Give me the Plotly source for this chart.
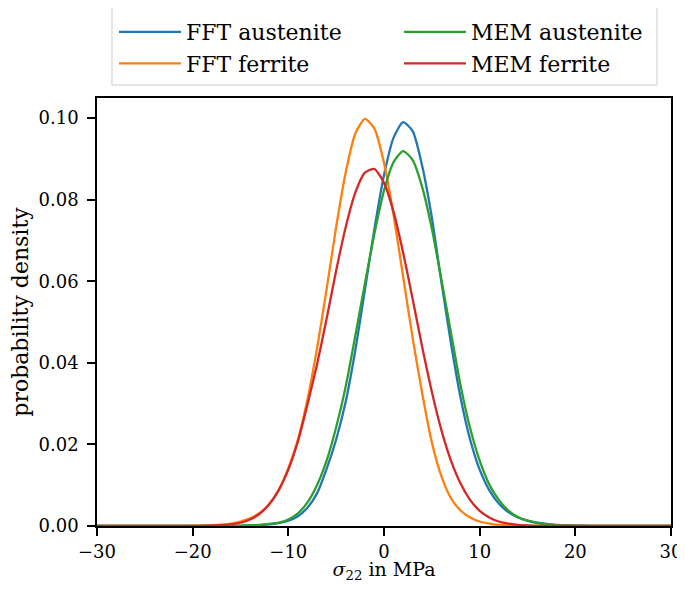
import plotly.graph_objects as go

# stress grid (bin centres, MPa)
stress = list(range(-30, 31))

fft_austenite = [0.0] * 14 + [
    0.00002, 0.00005, 0.0001, 0.0002, 0.0004, 0.0007, 0.0013, 0.0024, 0.0045, 0.0080,
    0.0140, 0.0212, 0.0305, 0.0430, 0.0578, 0.0728, 0.0860, 0.0952, 0.0990, 0.0968,
    0.0882, 0.0756, 0.0598, 0.0448, 0.0315, 0.0212, 0.0138, 0.0088, 0.0055, 0.0034,
    0.0021, 0.0013, 0.0008, 0.0005, 0.0003, 0.0002, 0.0001, 0.00006, 0.00003, 0.00002,
] + [0.0] * 7

mem_austenite = [0.0] * 13 + [
    0.00003, 0.00006, 0.0001, 0.0002, 0.0003, 0.0005, 0.0008, 0.0016, 0.0031, 0.0058,
    0.0100, 0.0160, 0.0242, 0.0342, 0.0466, 0.0594, 0.0717, 0.0822, 0.0892, 0.0919,
    0.0897, 0.0830, 0.0729, 0.0604, 0.0474, 0.0345, 0.0240, 0.0160, 0.0102, 0.0064,
    0.0038, 0.0022, 0.0013, 0.0007, 0.0004, 0.0002, 0.0001, 0.00006, 0.00003, 0.00002,
] + [0.0] * 8

fft_ferrite = [0.0] * 8 + [
    0.00002, 0.00004, 0.00007, 0.00012, 0.0002, 0.00035, 0.0006, 0.0011, 0.0019, 0.0032,
    0.0054, 0.0089, 0.0142, 0.0212, 0.0310, 0.0435, 0.0580, 0.0733, 0.0867, 0.0962,
    0.0998, 0.0974, 0.0890, 0.0762, 0.0611, 0.0460, 0.0324, 0.0205, 0.0122, 0.0068,
    0.0038, 0.0021, 0.0011, 0.0006, 0.0003, 0.00015, 0.00008, 0.00004, 0.00002,
] + [0.0] * 14

mem_ferrite = [0.0] * 10 + [
    0.00003, 0.00005, 0.0001, 0.0002, 0.0004, 0.0008, 0.0016, 0.0030, 0.0053, 0.0088,
    0.0138, 0.0207, 0.0298, 0.0396, 0.0508, 0.0626, 0.0733, 0.0817, 0.0866, 0.0875,
    0.0841, 0.0770, 0.0670, 0.0556, 0.0438, 0.0329, 0.0235, 0.0160, 0.0104, 0.0064,
    0.0037, 0.0021, 0.0011, 0.00056, 0.00027, 0.00012, 0.00005, 0.00002,
] + [0.0] * 13

x_ticks = [-30, -20, -10, 0, 10, 20, 30]
x_tick_labels = ["\u221230", "\u221220", "\u221210", "0", "10", "20", "30"]
y_ticks = [0.00, 0.02, 0.04, 0.06, 0.08, 0.10]
y_tick_labels = ["0.00", "0.02", "0.04", "0.06", "0.08", "0.10"]

# (name, values, colour, legend column)
series = [
    ("FFT austenite", fft_austenite, "#1f77b4", "legend"),
    ("FFT ferrite", fft_ferrite, "#ff7f0e", "legend"),
    ("MEM austenite", mem_austenite, "#2ca02c", "legend2"),
    ("MEM ferrite", mem_ferrite, "#d62728", "legend2"),
]

fig = go.Figure()
for name, vals, col, leg in series:
    fig.add_trace(go.Scatter(
        x=stress, y=vals, mode="lines", name=name, legend=leg,
        line=dict(color=col, width=2.3, shape="spline", smoothing=0.6),
    ))

font_family = "DejaVu Serif, serif"
leg_common = dict(
    orientation="v", yanchor="top", xanchor="left", y=1.2033,
    bgcolor="rgba(0,0,0,0)", borderwidth=0,
    font=dict(family=font_family, size=22), itemwidth=62, tracegroupgap=0,
)

# the page body adds an 8px offset; the figure is sized to compensate
# (height kept small enough that the page never needs a scrollbar)
fig.update_layout(
    width=677, height=575,
    margin=dict(l=89, r=14, t=90, b=57, autoexpand=False),
    paper_bgcolor="white", plot_bgcolor="white",
    font=dict(family=font_family, size=18, color="black"),
    showlegend=True,
    legend=dict(x=0.0296, **leg_common),
    legend2=dict(x=0.5261, **leg_common),
    shapes=[dict(
        type="rect", xref="paper", yref="paper",
        x0=0.0261, x1=0.9756, y0=1.0304, y1=1.2243,
        line=dict(color="#cccccc", width=1), fillcolor="rgba(0,0,0,0)",
    )],
    xaxis=dict(
        range=[-30, 30], tickvals=x_ticks, ticktext=x_tick_labels, ticks="outside",
        ticklen=8, tickwidth=1.5, tickcolor="black", showline=True, linecolor="black",
        linewidth=1.5, mirror=True, showgrid=False, zeroline=False,
        layer="below traces", automargin=False, ticklabelstandoff=1,
        title=dict(text="<i>σ</i><sub>22</sub> in MPa", standoff=4,
                   font=dict(size=19)),
    ),
    yaxis=dict(
        range=[0, 0.1049], tickvals=y_ticks, ticktext=y_tick_labels, ticks="outside",
        ticklen=8, tickwidth=1.5, tickcolor="black", showline=True, linecolor="black",
        linewidth=1.5, mirror=True, showgrid=False, zeroline=False,
        layer="below traces", automargin=False, ticklabelstandoff=5,
        title=dict(text="probability density", standoff=22),
    ),
)

fig.write_html("out.html")
